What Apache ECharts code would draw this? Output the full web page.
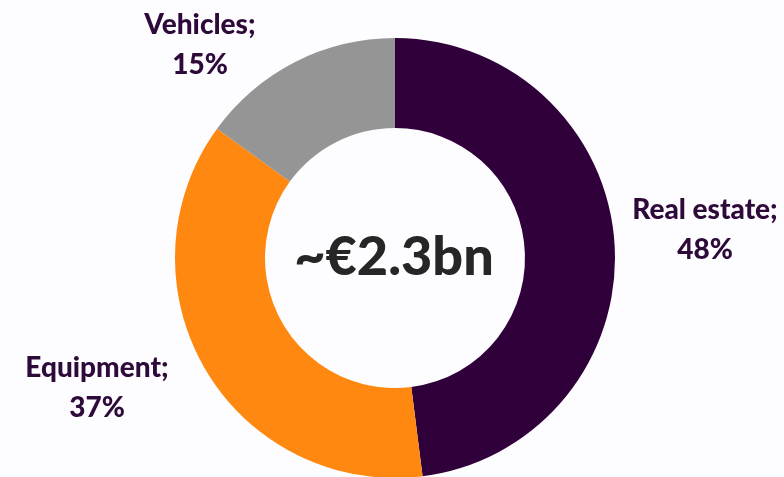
<!DOCTYPE html>
<html>
<head>
<meta charset="utf-8">
<script src="https://cdn.jsdelivr.net/npm/echarts@6/dist/echarts.min.js"></script>
<style>
  html, body { margin: 0; padding: 0; background: #fdfcfe; }
  #main { width: 784px; height: 477px; }
</style>
</head>
<body>
<div id="main"></div>
<script>
var categories = ['Real estate', 'Equipment', 'Vehicles'];
var shares = [48, 37, 15];
var colors = ['#30003a', '#ff8811', '#959595'];
var totalLabel = '~€2.3bn';

// where each outside label sits (center of the two-line block)
var labelSpots = [[705, 230], [97, 388], [200, 45]];

var myChart = echarts.init(document.getElementById('main'));

var option = {
  backgroundColor: '#fdfcfe',
  animation: false,
  graphic: [{
    type: 'text',
    z: 100,
    x: 394,
    y: 258,
    style: {
      text: totalLabel,
      align: 'center',
      verticalAlign: 'middle',
      font: '900 54px Lato',
      fill: '#262626'
    }
  }],
  series: [{
    type: 'pie',
    center: [395, 258],
    radius: [130, 220],
    startAngle: 90,
    clockwise: true,
    silent: true,
    data: categories.map(function (c, i) {
      return { name: c, value: shares[i], itemStyle: { color: colors[i] } };
    }),
    label: {
      show: true,
      position: 'outside',
      formatter: '{b};\n{c}%',
      fontFamily: 'Lato',
      fontWeight: 900,
      fontSize: 28,
      lineHeight: 40,
      color: '#2e0a3a',
      align: 'center',
      overflow: 'none'
    },
    labelLine: { show: false },
    labelLayout: function (params) {
      var p = labelSpots[params.dataIndex];
      return { x: p[0], y: p[1], align: 'center', verticalAlign: 'middle', width: 200 };
    }
  }]
};

myChart.setOption(option);
</script>
</body>
</html>
